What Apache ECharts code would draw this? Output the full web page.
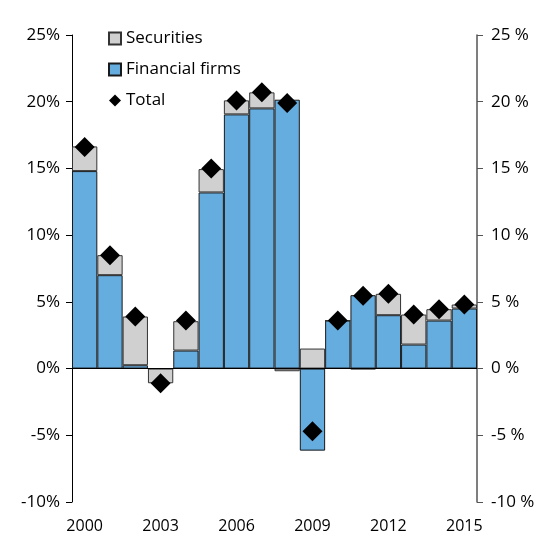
<!DOCTYPE html>
<html lang="en">
<head>
  <meta charset="UTF-8">
  <title>Financial firms and securities</title>
  <script src="https://cdn.jsdelivr.net/npm/echarts@6/dist/echarts.min.js"></script>
  <style>
    * { margin: 0; padding: 0; }
    #chart { width: 560px; height: 560px; background: #fff; }
  </style>
</head>
<body>
  <div id="chart"></div>
<script>
  // years on the x axis
  var years = ['2000', '2001', '2002', '2003', '2004', '2005', '2006', '2007',
               '2008', '2009', '2010', '2011', '2012', '2013', '2014', '2015'];

  // stacked parts, percent
  var financialFirms = [14.8, 7.0, 0.25, 0, 1.35, 13.2, 19.05, 19.5, 20.15, -6.15, 3.6, 5.5, 4.0, 1.8, 3.6, 4.5];
  var securities = [1.85, 1.5, 3.65, -1.1, 2.2, 1.75, 1.05, 1.2, -0.2, 1.5, 0, -0.05, 1.6, 2.25, 0.85, 0.3];

  // total marker
  var total = [16.6, 8.5, 3.9, -1.1, 3.6, 15.0, 20.1, 20.7, 19.9, -4.7, 3.6, 5.45, 5.6, 4.05, 4.45, 4.8];

  var myChart = echarts.init(document.getElementById('chart'));
  var font = 'Open Sans';

  var option = {
    animation: false,
    textStyle: { fontFamily: font },
    legend: {
      orient: 'vertical',
      left: 103,
      top: 25,
      itemWidth: 12,
      itemHeight: 12,
      itemGap: 14,
      textStyle: { fontSize: 17, color: '#000', fontFamily: font },
      data: [
        { name: 'Securities', icon: 'rect' },
        { name: 'Financial firms', icon: 'rect' },
        { name: 'Total', icon: 'diamond', itemStyle: { opacity: 1 } }
      ]
    },
    grid: { left: 72, right: 83, top: 35, bottom: 58 },
    xAxis: {
      type: 'category',
      data: years,
      axisLine: { show: false },
      axisTick: { show: false },
      axisLabel: {
        interval: 2,
        margin: 16,
        fontSize: 16,
        color: '#000',
        fontFamily: font
      }
    },
    yAxis: [{
      type: 'value',
      min: -10,
      max: 25,
      interval: 5,
      position: 'left',
      splitLine: { show: false },
      axisLine: { show: true, lineStyle: { color: '#000', width: 1 } },
      axisTick: { show: true, length: 6, lineStyle: { color: '#000' } },
      axisLabel: {
        margin: 12,
        fontSize: 17,
        color: '#000',
        fontFamily: font,
        formatter: function (v) { return v + '%'; }
      }
    }, {
      type: 'value',
      min: -10,
      max: 25,
      interval: 5,
      position: 'right',
      splitLine: { show: false },
      axisLine: { show: true, lineStyle: { color: '#555', width: 1.5 } },
      axisTick: { show: true, length: 6, lineStyle: { color: '#555' } },
      axisLabel: {
        margin: 14,
        fontSize: 17,
        color: '#000',
        fontFamily: font,
        formatter: function (v) { return v + ' %'; }
      }
    }],
    series: [{
      name: 'Financial firms',
      type: 'bar',
      stack: 'all',
      data: financialFirms,
      barCategoryGap: '0%',
      itemStyle: { color: '#66addf', borderColor: '#1a1a1a', borderWidth: 1 },
      markLine: {
        silent: true,
        symbol: 'none',
        label: { show: false },
        lineStyle: { color: '#000', width: 1.2, type: 'solid' },
        data: [{ yAxis: 0 }]
      },
      z: 2
    }, {
      name: 'Securities',
      type: 'bar',
      stack: 'all',
      data: securities,
      itemStyle: { color: '#d0d0d0', borderColor: '#333', borderWidth: 1 },
      z: 2
    }, {
      name: 'Total',
      type: 'scatter',
      data: total,
      symbol: 'diamond',
      symbolSize: [20, 20],
      itemStyle: { color: '#000', opacity: 1 },
      z: 5
    }]
  };

  myChart.setOption(option);
</script>
</body>
</html>
